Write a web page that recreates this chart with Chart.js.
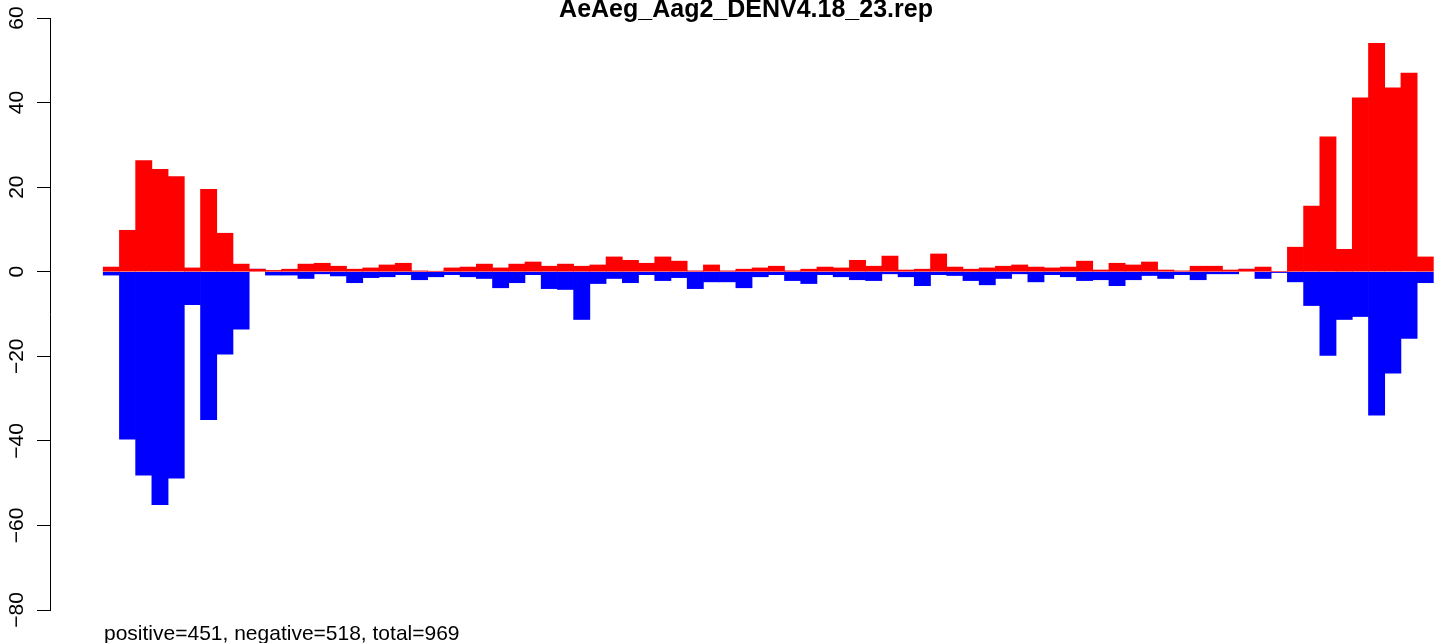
<!DOCTYPE html>
<html>
<head>
<meta charset="utf-8">
<script src="https://cdn.jsdelivr.net/npm/chart.js@4.4.1/dist/chart.umd.min.js"></script>
<style>
  body { margin: 0; background: #fff; }
  #wrap { width: 1441px; height: 643px; position: relative; }
</style>
</head>
<body>
<div id="wrap"><canvas id="repChart"></canvas></div>
<script>
const chartTitle = 'AeAeg_Aag2_DENV4.18_23.rep';
const footNote = 'positive=451, negative=518, total=969';

// one value per bin
const positiveVals = [
  1.1, 9.8, 26.3, 24.2, 22.5, 0.9, 19.5, 9.1, 1.8, 0.6,
  0.3, 0.6, 1.8, 2.0, 1.3, 0.6, 0.9, 1.6, 2.0, 0.2,
  0.1, 0.9, 1.1, 1.8, 0.9, 1.8, 2.3, 1.3, 1.8, 1.3,
  1.6, 3.5, 2.7, 2.0, 3.5, 2.5, 0.2, 1.6, 0.2, 0.6,
  0.9, 1.3, 0.2, 0.6, 1.1, 0.9, 2.7, 1.3, 3.7, 0.4,
  0.6, 4.2, 1.1, 0.6, 0.9, 1.3, 1.6, 1.1, 0.9, 1.1,
  2.5, 0.4, 2.0, 1.6, 2.3, 0.4, 0.2, 1.3, 1.3, 0.4,
  0.6, 1.1, 0, 5.8, 15.5, 31.9, 5.3, 41.1, 54.0, 43.5,
  47.0, 3.5
];
const negativeVals = [
  -0.8, -39.6, -48.1, -55.1, -48.8, -7.8, -35.0, -19.5, -13.6, 0,
  -0.8, -0.8, -1.6, -0.5, -1.0, -2.6, -1.4, -1.2, -0.7, -1.9,
  -1.2, -0.7, -1.2, -1.6, -3.8, -2.6, -0.7, -4.0, -4.2, -11.3,
  -2.8, -1.6, -2.6, -0.7, -2.1, -1.4, -4.0, -2.4, -2.4, -3.8,
  -1.2, -0.7, -2.1, -2.8, -0.7, -1.2, -1.9, -2.1, -0.5, -1.2,
  -3.3, -0.7, -0.9, -2.1, -3.1, -1.6, -0.5, -2.4, -0.7, -1.2,
  -2.1, -1.9, -3.3, -1.9, -0.9, -1.6, -0.7, -1.9, -0.5, -0.5,
  0, -1.6, -0.2, -2.4, -8.0, -19.8, -11.3, -10.6, -33.9, -24.0,
  -15.8, -2.6
];
const yTicks = [-80, -60, -40, -20, 0, 20, 40, 60];

// bins sit at 0.5, 1.5, ... on a linear x scale (like R barplot, space = 0)
const binPos = positiveVals.map((v, i) => i + 0.5);

const textPlugin = {
  id: 'rText',
  afterDraw(chart) {
    const ctx = chart.ctx;
    ctx.save();
    ctx.fillStyle = '#000';
    ctx.font = 'bold 25px "Liberation Sans"';
    ctx.textAlign = 'center';
    ctx.textBaseline = 'alphabetic';
    ctx.fillText(chartTitle, 746, 16.5);
    ctx.font = '21px "Liberation Sans"';
    ctx.textAlign = 'left';
    ctx.fillText(footNote, 104, 640);
    ctx.restore();
  }
};

new Chart(document.getElementById('repChart'), {
  type: 'bar',
  data: {
    datasets: [{
      label: 'positive',
      data: binPos.map((x, i) => ({ x: x, y: positiveVals[i] })),
      backgroundColor: '#ff0000',
      borderWidth: 0
    }, {
      label: 'negative',
      data: binPos.map((x, i) => ({ x: x, y: negativeVals[i] })),
      backgroundColor: '#0000ff',
      borderWidth: 0
    }]
  },
  options: {
    responsive: true,
    maintainAspectRatio: false,
    animation: false,
    barPercentage: 1,
    categoryPercentage: 1,
    layout: { padding: { top: 18, bottom: 33, left: 0, right: 0 } },
    plugins: {
      legend: { display: false },
      tooltip: { enabled: false }
    },
    scales: {
      x: {
        type: 'linear',
        stacked: true,
        display: false,
        offset: false,
        grid: { offset: false },
        bounds: 'ticks',
        min: -3.28,
        max: 82.47
      },
      y: {
        stacked: true,
        min: -80,
        max: 60,
        afterFit(scale) { scale.width = 50; },
        afterBuildTicks(scale) { scale.ticks = yTicks.map(v => ({ value: v })); },
        border: { display: true, color: '#000', width: 1 },
        grid: { drawOnChartArea: false, drawTicks: true, tickLength: 13, color: '#000', lineWidth: 1 },
        ticks: {
          minRotation: 90,
          maxRotation: 90,
          crossAlign: 'center',
          padding: 2,
          color: '#000',
          font: { family: '"Liberation Sans"', size: 21 },
          callback: v => (v < 0 ? '\u2212' + Math.abs(v) : String(v))
        }
      }
    }
  },
  plugins: [textPlugin]
});
</script>
</body>
</html>
